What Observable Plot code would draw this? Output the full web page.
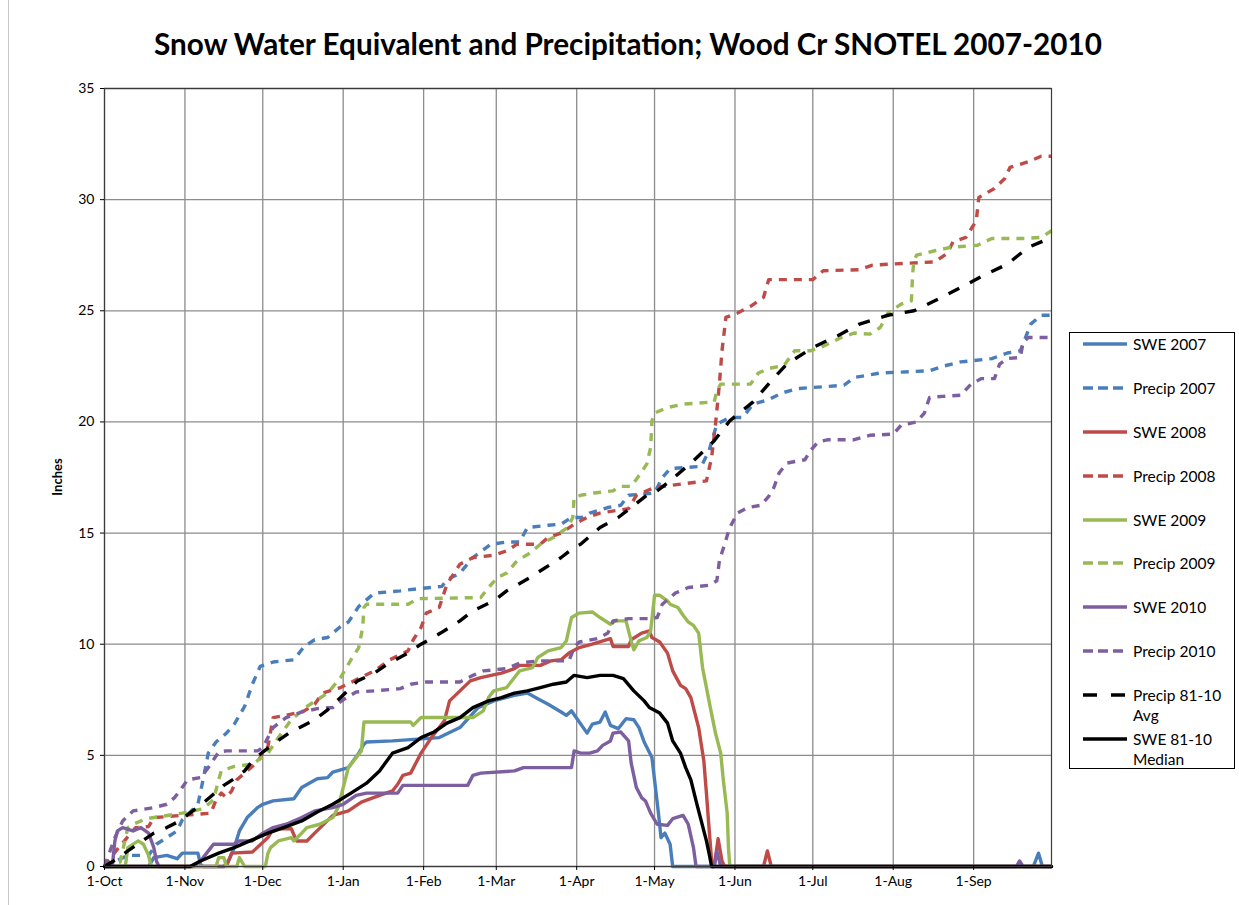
<!DOCTYPE html>
<html><head><meta charset="utf-8">
<script src="https://cdn.jsdelivr.net/npm/d3@7"></script>
<script src="https://cdn.jsdelivr.net/npm/@observablehq/plot@0.6"></script>
<style>
html,body{margin:0;padding:0;background:#fff;}
#wrap{position:relative;width:1239px;height:905px;overflow:hidden;font-family:Lato,"Open Sans",sans-serif;color:#000;}
#chart{position:absolute;left:0;top:0;}
#title{position:absolute;left:0;width:1256px;top:27px;text-align:center;font-weight:bold;font-size:29.7px;line-height:34px;white-space:nowrap;}
#ylab{position:absolute;left:57px;top:477px;transform:translate(-50%,-50%) rotate(-90deg);font-weight:bold;font-size:13px;white-space:nowrap;}
#legend{position:absolute;left:1069px;top:332px;width:166px;height:437px;border:1px solid #000;box-sizing:border-box;}
.item{position:absolute;left:0;width:166px;font-size:15.5px;line-height:20px;}
.item svg{position:absolute;left:11px;top:6px;}
.item span{position:absolute;left:63px;top:0;white-space:nowrap;}
#edge{position:absolute;left:8px;top:0;width:1px;height:905px;background:#c8c8c8;}
</style></head>
<body><div id="wrap"><div id="edge"></div><div id="chart"></div>
<div id="title">Snow Water Equivalent and Precipitation; Wood Cr SNOTEL 2007-2010</div>
<div id="ylab">Inches</div>
<div id="legend"></div></div>
<script>
// day = days since 1-Oct, value = inches
const swe2007 = [[0,0],[17,0],[19,0.4],[24,0.5],[28,0.35],[30,0.6],[36,0.6],[37,0.1],[38,0],[46,0],[48,0.3],[50,0.85],[52,1.6],[55,2.2],[59,2.65],[61,2.8],[65,2.95],[73,3.05],[76,3.55],[82,3.95],[86,4.0],[88,4.25],[94,4.45],[98,5.1],[100,5.5],[101,5.6],[111,5.65],[129,5.8],[137,6.25],[144,7.15],[150,7.45],[158,7.7],[163,7.8],[167,7.55],[171,7.3],[176,6.95],[178,6.8],[180,7.0],[183,6.5],[186,6.0],[188,6.4],[191,6.5],[193,6.95],[195,6.35],[198,6.2],[201,6.65],[204,6.6],[206,6.25],[208,5.6],[211,4.9],[212,3.9],[213.5,2.4],[214.5,1.3],[216,1.5],[218,1.0],[219,0],[358,0],[360,0.6],[361.5,0],[365,0]];
const precip2007 = [[0,0],[9,0.5],[17,0.5],[20,1.0],[28,1.6],[30,2.1],[36,2.8],[38,3.9],[40,5.1],[43,5.6],[47,6.0],[50,6.4],[54,7.2],[57,8.2],[60,9.0],[65,9.2],[73,9.3],[77,9.9],[81,10.2],[86,10.3],[91,10.8],[94,11.0],[98,11.7],[104,12.3],[114,12.4],[121,12.5],[130,12.6],[132,12.9],[137,13.2],[142,13.9],[149,14.5],[155,14.6],[160,14.6],[163,15.25],[171,15.35],[176,15.4],[180,15.7],[184,15.7],[187,15.9],[194,16.15],[199,16.25],[202,16.7],[212,16.8],[215,17.5],[218,17.9],[230,18.0],[233,18.7],[236,19.9],[241,20.2],[246,20.2],[250,20.8],[256,21.0],[261,21.3],[267,21.5],[279,21.6],[285,21.65],[289,22.0],[299,22.2],[318,22.3],[323,22.5],[330,22.7],[342,22.85],[348,23.1],[353,23.2],[357,24.4],[361,24.8],[365,24.8]];
const swe2008 = [[0,0],[47,0],[49,0.6],[57,0.65],[63,1.3],[65,1.7],[72,1.7],[74,1.15],[78,1.15],[81,1.5],[88,2.3],[94,2.5],[99,2.9],[106,3.2],[111,3.4],[113,3.7],[115,4.1],[118,4.2],[122,5.1],[126,5.8],[131,6.55],[133,7.45],[137,7.9],[141,8.35],[145,8.5],[153,8.7],[158,8.9],[160,9.05],[168,9.05],[172,9.25],[176,9.3],[179,9.6],[183,9.85],[188,10.0],[195,10.25],[196,9.9],[202,9.9],[203,10.2],[207,10.5],[210,10.6],[211,10.3],[214,10.1],[217,9.6],[219,8.8],[222,8.15],[224,8.0],[226,7.6],[229,6.25],[231,4.75],[232,3.3],[233,1.75],[234,0.25],[234.5,0],[235,0],[236.5,1.25],[238,0.25],[239,0],[254,0],[255.5,0.7],[257,0],[365,0]];
const precip2008 = [[0,0],[3,0.5],[8,1.2],[12,1.75],[17,1.8],[19,2.2],[41,2.4],[43,3.0],[45,3.3],[47,3.1],[49,3.4],[51,3.9],[55,4.3],[59,4.7],[61,5.1],[63,5.4],[65,6.7],[70,6.8],[77,7.0],[81,7.3],[84,7.8],[91,8.05],[97,8.4],[104,8.8],[110,9.3],[117,9.7],[119,10.2],[122,10.75],[124,11.4],[129,11.65],[132,12.7],[137,13.6],[142,13.9],[150,14.0],[155,14.2],[159,14.5],[168,14.5],[171,14.8],[176,15.0],[181,15.4],[186,15.7],[191,15.9],[202,16.1],[205,16.7],[212,17.05],[232,17.35],[234,18.4],[235.5,19.9],[237,21.7],[238,23.2],[239.5,24.7],[244,24.9],[249,25.2],[254,25.6],[256,26.4],[273,26.4],[277,26.8],[291,26.85],[296,27.05],[303,27.1],[320,27.2],[325,27.6],[327,28.1],[332,28.3],[336,29.05],[337,30.1],[343,30.5],[347,30.95],[349,31.45],[356,31.7],[361,31.95],[365,31.95]];
const swe2009 = [[0,0],[8,0],[9,0.85],[13,1.15],[15,1.0],[17,0.5],[18,0],[43,0],[44,0.4],[46,0.4],[47,0],[51,0],[52,0.4],[54,0],[62,0],[63,0.6],[64,0.85],[67,1.15],[72,1.3],[73,1.15],[76,1.5],[78,1.75],[83,1.9],[88,2.2],[90,2.65],[92,3.55],[94,4.45],[96,4.75],[99,5.2],[100,6.5],[118,6.5],[119,6.35],[122,6.7],[142,6.7],[146,7.0],[148,7.6],[150,7.9],[155,8.05],[158,8.5],[160,8.8],[165,8.95],[167,9.4],[171,9.7],[176,9.85],[178,10.15],[180,11.2],[183,11.4],[188,11.45],[191,11.2],[195,10.9],[197,11.05],[201,11.05],[203,10.15],[204,9.75],[206,10.15],[209,10.3],[210.5,10.6],[212,12.2],[214,12.2],[217,11.95],[218,11.8],[221,11.65],[223,11.3],[225,11.0],[227,10.85],[229,10.5],[230.5,8.95],[232,8.05],[233.5,7.15],[235.5,6.0],[237.5,5.1],[238.5,3.9],[240,2.4],[240.5,0.85],[241,0],[365,0]];
const precip2009 = [[0,0],[6,0.2],[9,1.75],[11,1.9],[16,2.15],[30,2.4],[38,2.6],[42,3.0],[44,3.9],[45,4.3],[50,4.5],[57,4.6],[63,5.1],[67,5.8],[72,6.6],[78,7.2],[86,7.8],[91,8.5],[95,9.3],[98,9.85],[99.5,10.75],[100,11.65],[101,11.8],[117,11.8],[121,12.05],[145,12.1],[148,12.55],[151.5,13.0],[155,13.2],[159,13.75],[164,14.1],[168,14.5],[173,14.8],[178.5,15.25],[180.5,15.7],[181,16.6],[183.5,16.7],[188.5,16.8],[196,16.9],[199,17.1],[203,17.1],[205.5,17.5],[209,18.1],[210.5,18.85],[211,20.05],[212,20.4],[217,20.65],[223,20.8],[235,20.9],[236,21.4],[237.5,21.7],[249,21.7],[252,22.2],[256,22.4],[262,22.55],[266,23.2],[272,23.2],[276,23.35],[284,23.8],[289,24.0],[295,23.95],[299,24.25],[302,24.9],[307,25.3],[311,25.45],[311.5,26.7],[312,27.25],[313,27.5],[320,27.7],[326,27.85],[336.5,27.95],[342,28.25],[354,28.25],[361,28.3],[365,28.6]];
const swe2010 = [[0,0],[3,0],[4,1.15],[5,1.6],[7,1.75],[11,1.6],[14,1.75],[17,1.5],[19,0.85],[20,0.25],[21,0],[34,0],[37,0.25],[41,0.85],[42,1.0],[50,1.0],[52,1.15],[57,1.15],[61,1.5],[65,1.75],[70,1.9],[76,2.2],[81,2.5],[88,2.65],[92,2.8],[97,3.2],[101,3.3],[113,3.3],[115,3.65],[140,3.65],[142,4.1],[145,4.2],[158,4.3],[161.5,4.45],[180,4.45],[181,5.2],[183.5,5.1],[187,5.1],[190,5.2],[192,5.45],[195,5.65],[196,6.0],[199,6.05],[202,5.65],[203,4.65],[205,3.55],[207,3.1],[208.5,2.95],[210.5,2.4],[213,1.9],[217,1.85],[219,2.15],[223,2.3],[225,1.9],[227,0.85],[228,0],[235,0],[236,0.7],[237.5,0],[351.5,0],[352.7,0.25],[354,0],[365,0]];
const precip2010 = [[0,0],[4,1.3],[7,2.05],[11,2.5],[19,2.65],[24,2.8],[27,3.1],[29,3.4],[32,3.9],[37,4.0],[40,4.45],[44,5.15],[47,5.2],[59,5.2],[61,5.35],[65,6.25],[70,6.7],[76,6.95],[82,7.1],[88,7.15],[92,7.5],[97,7.85],[104,7.9],[114,8.0],[118,8.2],[124,8.3],[137,8.3],[142,8.6],[146,8.8],[155,8.9],[160,9.15],[167,9.25],[179,9.25],[181,9.85],[183,10.1],[190,10.25],[194,10.5],[196,11.05],[202,11.15],[210,11.15],[213,11.2],[215,11.8],[220,12.3],[225,12.55],[233,12.65],[236,12.85],[237,13.75],[239,14.5],[241,15.25],[244,15.9],[248,16.15],[253,16.25],[256,16.65],[258,17.05],[260,17.7],[263,18.15],[270,18.3],[272,18.7],[275,19.1],[279,19.2],[289,19.2],[295,19.4],[304,19.45],[307,19.85],[313,20.0],[316,20.4],[318,21.1],[323,21.15],[330,21.2],[334,21.7],[338,21.95],[343,21.95],[345,22.6],[348,22.85],[353,22.9],[354,23.55],[356,23.8],[365,23.8]];
const precipAvg = [[0,0],[3.5,0.25],[9,0.7],[14,1.1],[19,1.5],[24,1.75],[29,2.05],[34,2.5],[38,2.85],[43,3.35],[46,3.65],[50,3.95],[54,4.3],[57,4.75],[61,5.15],[65,5.5],[71,6.0],[76,6.3],[81,6.6],[86,7.05],[91,7.6],[97.5,8.35],[104,8.7],[109,9.1],[117,9.6],[122,10.0],[129.5,10.5],[137,11.05],[142,11.5],[150,11.95],[155,12.4],[164,13.0],[172,13.6],[176,13.9],[181,14.35],[183.5,14.5],[188.5,15.0],[191,15.25],[198,15.7],[203,16.15],[209,16.7],[212,16.8],[218,17.35],[227,18.25],[235,19.15],[241,20.05],[250,20.9],[257,21.85],[263,22.6],[273,23.35],[283,23.9],[291,24.4],[302,24.8],[312,25.0],[320,25.45],[330,26.05],[339,26.6],[348,27.1],[356,27.85],[365,28.3]];
const sweMedian = [[0,0],[33,0],[37,0.25],[44,0.6],[50,0.85],[56,1.15],[63,1.5],[69,1.75],[76,2.05],[82,2.45],[88,2.8],[95,3.3],[101,3.75],[106,4.3],[111,5.1],[117,5.35],[122,5.8],[127,6.05],[132,6.45],[137,6.7],[142,7.15],[148,7.45],[153,7.6],[158,7.8],[163,7.9],[168,8.05],[173,8.2],[178,8.3],[181,8.6],[186,8.5],[191,8.6],[196,8.6],[200,8.45],[204,7.9],[208,7.45],[210,7.15],[214,6.9],[217,6.45],[219,5.65],[222,5.1],[224,4.45],[226,3.9],[228,2.95],[230,2.05],[232,1.15],[233,0.6],[234,0],[365,0]];

const seriesNames = ["SWE 2007","Precip 2007","SWE 2008","Precip 2008","SWE 2009","Precip 2009","SWE 2010","Precip 2010","Precip 81-10 Avg","SWE 81-10 Median"];
const seriesValues = [swe2007,precip2007,swe2008,precip2008,swe2009,precip2009,swe2010,precip2010,precipAvg,sweMedian];
const yTicks = [0,5,10,15,20,25,30,35];

// styles
const colors = ["#4a7ebb","#4a7ebb","#be4b48","#be4b48","#98b954","#98b954","#7d5fa0","#7d5fa0","#000","#000"];
const dashes = [null,"8,7",null,"8,7",null,"8,7",null,"8,7","12,12",null];

const start = Date.UTC(2006,9,1);
const toDate = d => new Date(start + d*864e5);
const xDomain = [toDate(0), toDate(365)];
const monthTicks = d3.utcMonth.range(xDomain[0], xDomain[1]);
const fmt = d3.utcFormat("%-d-%b");

const marks = [
  Plot.gridX(monthTicks, {stroke:"#8c8c8c", strokeOpacity:1, strokeWidth:1.3}),
  Plot.gridY(yTicks, {stroke:"#8c8c8c", strokeOpacity:1, strokeWidth:1.3}),
];
seriesValues.forEach((s,i)=>{
  const rows = s.map(([d,v])=>({date:toDate(d), v}));
  marks.push(Plot.line(rows, {x:"date", y:"v", stroke:colors[i], strokeWidth:3.4, strokeDasharray:dashes[i]||undefined, strokeLinejoin:"round", strokeLinecap: dashes[i] ? "butt" : "round"}));
});
marks.push(Plot.frame({stroke:"#3a3a3a", strokeWidth:1.2}));
marks.push(Plot.axisX(monthTicks, {tickFormat:fmt, tickSize:4, tickPadding:6, fontSize:14, label:null}));
marks.push(Plot.axisY(yTicks, {tickSize:4, tickPadding:6, fontSize:14, label:null}));

const chart = Plot.plot({
  width:1239, height:905,
  marginLeft:104, marginRight:188, marginTop:88, marginBottom:39,
  style:{fontFamily:"Lato, 'Open Sans', sans-serif", color:"#000", background:"transparent"},
  x:{type:"utc", domain:xDomain},
  y:{domain:[0,35]},
  marks
});
document.getElementById("chart").appendChild(chart);

// legend
const legend = document.getElementById("legend");
const tops = [1,45,89,133,177,220,264,308,352,396];
seriesNames.forEach((name,i)=>{
  const it = document.createElement("div");
  it.className="item"; it.style.top = tops[i]+"px";
  const parts = name.startsWith("Precip 81") ? ["Precip 81-10","Avg"] : name.startsWith("SWE 81") ? ["SWE 81-10","Median"] : [name];
  const svg = `<svg width="48" height="8"><line x1="2" y1="4" x2="46" y2="4" stroke="${colors[i]}" stroke-width="3.4" ${dashes[i]?`stroke-dasharray="${i===8?'14,14':'10,5'}"`:''}/></svg>`;
  it.innerHTML = svg + `<span>${parts.join("<br>")}</span>`;
  legend.appendChild(it);
});
</script></body></html>
